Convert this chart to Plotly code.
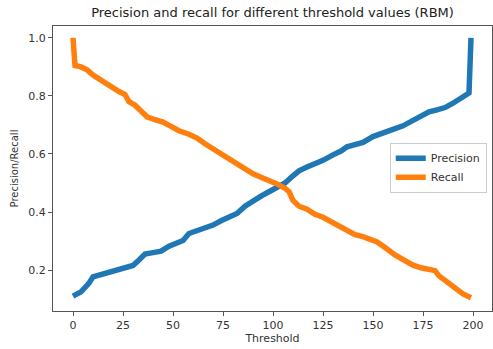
import plotly.graph_objects as go

title_text = "Precision and recall for different threshold values (RBM)"

prec_t = [0, 2, 4, 6, 8, 10, 13, 16, 20, 25, 30, 33, 36, 40, 44, 48, 52, 55, 58, 62,
          66, 70, 74, 78, 82, 86, 90, 94, 98, 102, 106, 110, 113, 117, 121, 125, 130,
          134, 137, 141, 145, 150, 155, 160, 165, 170, 174, 178, 182, 186, 190, 193,
          196, 198, 199]
prec_v = [0.11, 0.115, 0.125, 0.14, 0.155, 0.177, 0.183, 0.19, 0.2, 0.208, 0.216, 0.235,
          0.255, 0.26, 0.265, 0.282, 0.295, 0.302, 0.326, 0.335, 0.345, 0.355, 0.37,
          0.38, 0.395, 0.42, 0.44, 0.455, 0.47, 0.483, 0.5, 0.525, 0.542, 0.555, 0.565,
          0.578, 0.597, 0.61, 0.625, 0.632, 0.64, 0.66, 0.675, 0.685, 0.697, 0.715,
          0.73, 0.745, 0.752, 0.76, 0.775, 0.79, 0.8, 0.81, 1.0]

rec_t = [0, 1, 4, 7, 10, 13, 16, 20, 23, 26, 28, 31, 34, 37, 41, 45, 49, 53, 58, 62,
         66, 70, 74, 78, 82, 86, 90, 94, 98, 102, 106, 108, 110, 113, 117, 121, 125,
         129, 133, 137, 141, 145, 149, 152, 155, 158, 161, 164, 167, 170, 174, 178,
         181, 183, 186, 189, 192, 195, 199]
rec_v = [1.0, 0.905, 0.9, 0.89, 0.872, 0.858, 0.842, 0.825, 0.815, 0.805, 0.78, 0.768,
         0.75, 0.728, 0.718, 0.71, 0.695, 0.68, 0.668, 0.655, 0.635, 0.618, 0.598,
         0.582, 0.562, 0.545, 0.532, 0.52, 0.51, 0.497, 0.482, 0.47, 0.44, 0.42, 0.41,
         0.392, 0.382, 0.367, 0.352, 0.333, 0.322, 0.315, 0.305, 0.297, 0.283, 0.265,
         0.252, 0.24, 0.228, 0.217, 0.208, 0.202, 0.198, 0.18, 0.165, 0.152, 0.132,
         0.118, 0.105]

x_ticks = [0, 25, 50, 75, 100, 125, 150, 175, 200]
y_ticks = [0.2, 0.4, 0.6, 0.8, 1.0]
y_ticktext = ["0.2", "0.4", "0.6", "0.8", "1.0"]

font_family = "DejaVu Sans"

fig = go.Figure()
fig.add_trace(go.Scatter(x=prec_t, y=prec_v, mode="lines", name="Precision",
                         line=dict(color="#1f77b4", width=5.5)))
fig.add_trace(go.Scatter(x=rec_t, y=rec_v, mode="lines", name="Recall",
                         line=dict(color="#ff7f0e", width=5.5)))

axis_common = dict(showline=True, linecolor="#555", linewidth=1, mirror=True,
                   showgrid=False, zeroline=False, ticks="outside", ticklen=4,
                   tickcolor="#555", tickfont=dict(family=font_family, size=11, color="#333"))

fig.update_layout(
    width=493, height=349,
    margin=dict(l=53, r=1, t=26, b=38),
    paper_bgcolor="white", plot_bgcolor="white",
    title=dict(text=title_text, x=(53 + 492) / 2 / 493, xanchor="center",
               y=1 - 12 / 349, yanchor="middle",
               font=dict(family=font_family, size=13, color="#222")),
    xaxis=dict(range=[-10, 209.5], tickvals=x_ticks,
               title=dict(text="Threshold", font=dict(family=font_family, size=11, color="#333"), standoff=3),
               **axis_common),
    yaxis=dict(range=[0.059, 1.041], tickvals=y_ticks, ticktext=y_ticktext,
               title=dict(text="Precision/Recall", font=dict(family=font_family, size=10, color="#333"), standoff=7),
               **axis_common),
    legend=dict(x=0.988, xanchor="right", y=0.503, yanchor="middle",
                bordercolor="#ccc", borderwidth=1, bgcolor="white",
                font=dict(family=font_family, size=11, color="#333"),
                tracegroupgap=0, itemwidth=30),
    showlegend=True,
)

fig.write_html("out.html")
